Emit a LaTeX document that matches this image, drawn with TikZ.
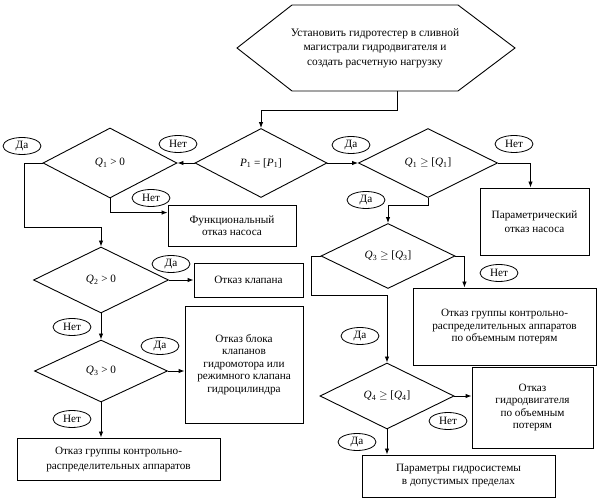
\documentclass[tikz,border=0pt]{standalone}
\usepackage{fontspec}
\setmainfont{Liberation Serif}
\usetikzlibrary{shapes.geometric,arrows.meta,calc}
\newcommand\qv[2]{\textit{#1}\textsubscript{#2}}
\begin{document}
\begin{tikzpicture}[x=1pt,y=-1pt,
  every node/.style={font=\fontsize{11.2}{12.5}\selectfont, align=center},
  box/.style={draw, line width=0.9pt, inner sep=0},
  dia/.style={draw, diamond, inner sep=0, line width=0.9pt},
  oval/.style={draw, ellipse, minimum width=38pt, minimum height=17pt, inner sep=0, line width=0.8pt},
  arr/.style={line width=0.9pt, -{Latex[length=6pt,width=4.5pt]}},
  ln/.style={line width=0.9pt}]
\useasboundingbox (0,0) rectangle (603,502);
% start hexagon
\draw[ln] (237,48) -- (292,5) -- (458,5) -- (515,48) -- (458,91) -- (292,91) -- cycle;
\node[font=\fontsize{11.4}{14.5}\selectfont] (start) at (375,48) {Установить гидротестер в сливной\\магистрали гидродвигателя и\\создать расчетную нагрузку};
\coordinate (hb) at (397,91);
% diamonds
\node[dia, minimum width=132pt, minimum height=69pt] (p1) at (261,163) {\qv{P}{1} = [\qv{P}{1}]};
\node[dia, minimum width=134pt, minimum height=70pt] (q1a) at (110,163) {\qv{Q}{1} > 0};
\node[dia, minimum width=139pt, minimum height=69pt] (q1b) at (428,163) {\qv{Q}{1} $\geq$ [\qv{Q}{1}]};
\node[dia, minimum width=135pt, minimum height=66pt] (q2) at (101,280) {\qv{Q}{2} > 0};
\node[dia, minimum width=133pt, minimum height=62pt] (q3) at (101,371) {\qv{Q}{3} > 0};
\node[dia, minimum width=134pt, minimum height=65pt] (q3b) at (388,256) {\qv{Q}{3} $\geq$ [\qv{Q}{3}]};
\node[dia, minimum width=134pt, minimum height=66pt] (q4) at (387,396) {\qv{Q}{4} $\geq$ [\qv{Q}{4}]};
% boxes
\node[box, minimum width=128pt, minimum height=41pt] (func) at (232,225.5) {Функциональный\\отказ насоса};
\node[box, minimum width=109pt, minimum height=67pt, font=\fontsize{11.2}{14}\selectfont] (param) at (534.5,221.5) {Параметрический\\отказ насоса};
\node[box, minimum width=109pt, minimum height=34pt] (klapan) at (248.5,280) {Отказ клапана};
\node[box, minimum width=118pt, minimum height=117pt] (blok) at (244,364.5) {Отказ блока\\клапанов\\гидромотора или\\режимного клапана\\гидроцилиндра};
\node[box, minimum width=203pt, minimum height=42pt, font=\fontsize{11.2}{15}\selectfont] (grp1) at (118.5,459) {Отказ группы контрольно-\\распределительных аппаратов};
\node[box, minimum width=183pt, minimum height=77pt] (grp2) at (504.5,326.5) {Отказ группы контрольно-\\распределительных аппаратов\\по объемным потерям};
\node[box, minimum width=121pt, minimum height=81pt] (gidro) at (532.5,407.5) {Отказ\\гидродвигателя\\по объемным\\потерям};
\node[box, minimum width=193pt, minimum height=42pt, font=\fontsize{11.2}{13}\selectfont] (params) at (458.5,476) {Параметры гидросистемы\\в допустимых пределах};
% ovals
\node[oval] (y1) at (22,146) {Да};
\node[oval] (n1) at (178,144) {Нет};
\node[oval] (n2) at (151,198) {Нет};
\node[oval] (y2) at (351,145) {Да};
\node[oval] (n3) at (514,144) {Нет};
\node[oval] (y3) at (366,200) {Да};
\node[oval] (y4) at (171,264) {Да};
\node[oval] (n4) at (72,327) {Нет};
\node[oval] (y5) at (160,346) {Да};
\node[oval] (n5) at (72,419) {Нет};
\node[oval] (n6) at (499,273) {Нет};
\node[oval] (y6) at (360,336) {Да};
\node[oval] (n7) at (448,421) {Нет};
\node[oval] (y7) at (357,442) {Да};
% connectors
\draw[arr] (hb) -- ++(0,19) -| (p1.north);
\draw[arr] (p1.west) -- (q1a.east);
\draw[arr] (p1.east) -- (q1b.west);
\draw[arr] (q1a.west) -- ++(-18,0) |- ([yshift=19pt]q2.north) -- (q2.north);
\draw[arr] (q1a.south) |- ([yshift=-8pt]func.north west);
\draw[arr] (q1b.east) -| ([xshift=-4pt]param.north);
\draw[arr] (q1b.south) -- ++(0,8) -| (q3b.north);
\draw[arr] (q2.east) -- (klapan.west);
\draw[arr] (q2.south) -- (q3.north);
\draw[arr] (q3.east) -- (q3.east -| blok.west);
\draw[arr] (q3.south) -- (q3.south |- grp1.north);
\draw[arr] (q3b.east) -- ++(9,0) coordinate (t1) -- (t1 |- grp2.north);
\draw[arr] (q3b.west) -- ++(-9,0) |- ([yshift=67pt]q4.north) -- (q4.north);
\draw[arr] (q4.east) -- (q4.east -| gidro.west);
\draw[arr] (q4.south) -- (q4.south |- params.north);
\end{tikzpicture}
\end{document}
